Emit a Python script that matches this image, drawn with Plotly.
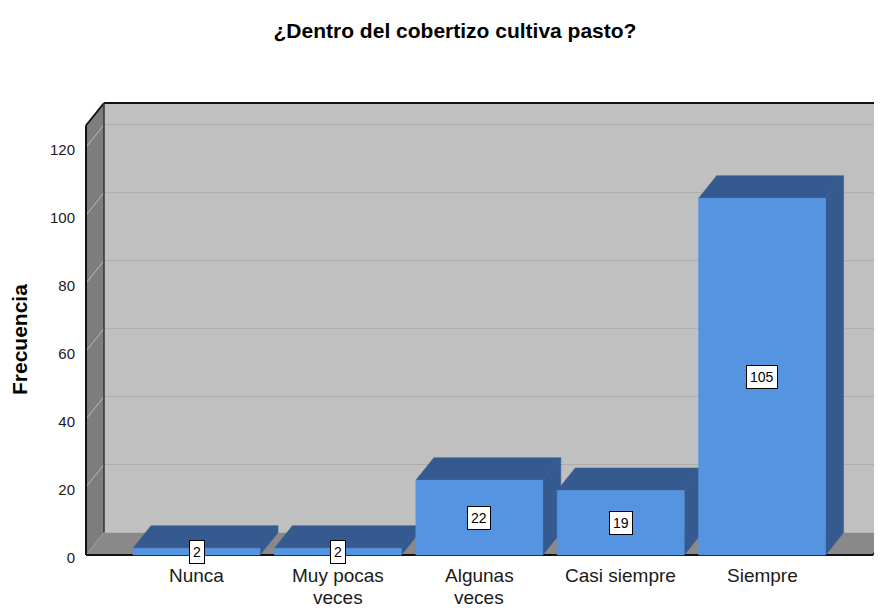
import plotly.graph_objects as go

# ── Datos ─────────────────────────────────────────────────────────────────────
categorias  = ["Nunca", "Muy pocas veces", "Algunas veces", "Casi siempre", "Siempre"]
frecuencias = [2, 2, 22, 19, 105]
etiquetas_x = [["Nunca"], ["Muy pocas", "veces"], ["Algunas", "veces"], ["Casi siempre"], ["Siempre"]]
ticks_y     = [0, 20, 40, 60, 80, 100, 120]

TITULO = "¿Dentro del cobertizo cultiva pasto?"
EJE_Y  = "Frecuencia"

# ── Geometría ─────────────────────────────────────────────────────────────────
# la página añade 8 px de margen al body: la figura empieza en (8, 8)
OFF = 8
W_FIG, H_FIG = 882 - OFF, 608 - OFF
M_L, M_R, M_T, M_B = 84 - OFF, 0, 101 - OFF, H_FIG - (557 - OFF)
PLOT_W = W_FIG - M_L - M_R
PLOT_H = H_FIG - M_T - M_B

PX_CAT = 141.4          # px por categoría
PX_VAL = 3.398          # px por unidad de frecuencia
X_MIN  = -0.7815        # borde frontal de la pared izquierda
PAD_X  = 2 / PX_CAT
PAD_Y  = 2 / PX_VAL
X_LO   = X_MIN - PAD_X
X_HI   = X_LO + PLOT_W / PX_CAT
Y_LO   = -PAD_Y
Y_HI   = Y_LO + PLOT_H / PX_VAL
Y_TOP  = Y_HI - PAD_Y   # borde superior de la pared del fondo

DX = 18 / PX_CAT        # profundidad 3D
DY = 22.5 / PX_VAL
ANCHO = 127 / PX_CAT
X_DER = len(categorias) - 1 + 0.784

C_FONDO  = "#c0c0c0"
C_PARED  = "#7d7d7d"
C_SUELO  = "#898989"
C_FRENTE = "#5594e0"
C_OSCURO = "#345a8f"

fig = go.Figure()

# ── Paredes y suelo ───────────────────────────────────────────────────────────
shapes = [
    dict(type="rect", x0=X_MIN + DX, x1=X_DER + DX, y0=DY, y1=Y_TOP,
         fillcolor=C_FONDO, line=dict(width=0), layer="below"),
    dict(type="path", layer="below", fillcolor=C_PARED, line=dict(width=0),
         path=f"M {X_MIN},0 L {X_MIN},{Y_TOP - DY} L {X_MIN + DX},{Y_TOP} L {X_MIN + DX},{DY} Z"),
    dict(type="path", layer="below", fillcolor=C_SUELO, line=dict(width=0),
         path=f"M {X_MIN},0 L {X_DER},0 L {X_DER + DX},{DY} L {X_MIN + DX},{DY} Z"),
]

# líneas de cuadrícula en el fondo y en la pared lateral
for v in ticks_y[1:]:
    shapes.append(dict(type="line", x0=X_MIN + DX, x1=X_DER + DX, y0=v + DY, y1=v + DY,
                       line=dict(color="#adadad", width=1), layer="below"))
    shapes.append(dict(type="line", x0=X_MIN, x1=X_MIN + DX, y0=v, y1=v + DY,
                       line=dict(color="#bcbcbc", width=1), layer="below"))

# aristas
negro = dict(color="#111111", width=2)
for x0, y0, x1, y1, ln in [
    (X_MIN, 0, X_MIN, Y_TOP - DY, negro),
    (X_MIN, Y_TOP - DY, X_MIN + DX, Y_TOP, negro),
    (X_MIN + DX, Y_TOP, X_DER + DX, Y_TOP, negro),
    (X_MIN + DX, DY, X_MIN + DX, Y_TOP, dict(color="#333333", width=1.5)),
    (X_MIN, 0, X_DER, 0, negro),
    (X_DER, 0, X_DER + DX, DY, negro),
]:
    shapes.append(dict(type="line", x0=x0, y0=y0, x1=x1, y1=y1, line=ln, layer="below"))


def cara(xs, ys, color):
    fig.add_trace(go.Scatter(
        x=xs, y=ys, mode="lines", fill="toself", fillcolor=color,
        line=dict(color=color, width=0.5), hoverinfo="skip", showlegend=False,
    ))


# ── Barras 3D ─────────────────────────────────────────────────────────────────
for i, v in enumerate(frecuencias):
    x0, x1 = i - ANCHO / 2, i + ANCHO / 2
    # lateral derecho
    cara([x1, x1, x1 + DX, x1 + DX, x1], [0, v, v + DY, DY, 0], C_OSCURO)
    # tapa superior
    cara([x0, x1, x1 + DX, x0 + DX, x0], [v, v, v + DY, v + DY, v], C_OSCURO)
    # frente
    cara([x0, x1, x1, x0, x0], [0, 0, v, v, 0], C_FRENTE)

annotations = [
    dict(x=i, y=v / 2, xref="x", yref="y", text=str(v), showarrow=False,
         bgcolor="white", bordercolor="black", borderwidth=1, borderpad=3,
         font=dict(size=14, color="black"))
    for i, v in enumerate(frecuencias)
]

# etiquetas de categoría (interlineado ajustado como en el original)
for i, lineas in enumerate(etiquetas_x):
    for j, t in enumerate(lineas):
        annotations.append(dict(
            x=i, y=0, xref="x", yref="paper", text=t, showarrow=False,
            yanchor="middle", yshift=-(18 + 22 * j), borderpad=0,
            font=dict(size=19, color="#1a1a1a"),
        ))

annotations.append(dict(
    text=f"<b>{EJE_Y}</b>", textangle=-90, showarrow=False,
    xref="paper", yref="paper",
    x=(19 - OFF - M_L) / PLOT_W, y=(H_FIG - M_B - (340 - OFF)) / PLOT_H,
    xanchor="center", yanchor="middle", font=dict(size=21, color="black"),
))

fig.update_layout(
    width=W_FIG, height=H_FIG,
    margin=dict(l=M_L, r=M_R, t=M_T, b=M_B),
    paper_bgcolor="white", plot_bgcolor="white",
    font=dict(family="Liberation Sans, Arial, sans-serif", color="#1a1a1a"),
    title=dict(text=f"<b>{TITULO}</b>", x=(455 - OFF) / W_FIG, xanchor="center",
               y=1 - (31 - OFF) / H_FIG, yanchor="middle", yref="container",
               font=dict(size=21, color="black")),
    shapes=shapes,
    annotations=annotations,
    showlegend=False,
    xaxis=dict(range=[X_LO, X_HI], showticklabels=False, showgrid=False,
               zeroline=False, showline=False, ticks="", fixedrange=True),
    yaxis=dict(range=[Y_LO, Y_HI], tickvals=ticks_y, showgrid=False, zeroline=False,
               showline=False, ticks="", ticklabelstandoff=8, ticklabelshift=3,
               tickfont=dict(size=15, color="#1a1a1a"), fixedrange=True),
)

fig.write_html("out.html")
